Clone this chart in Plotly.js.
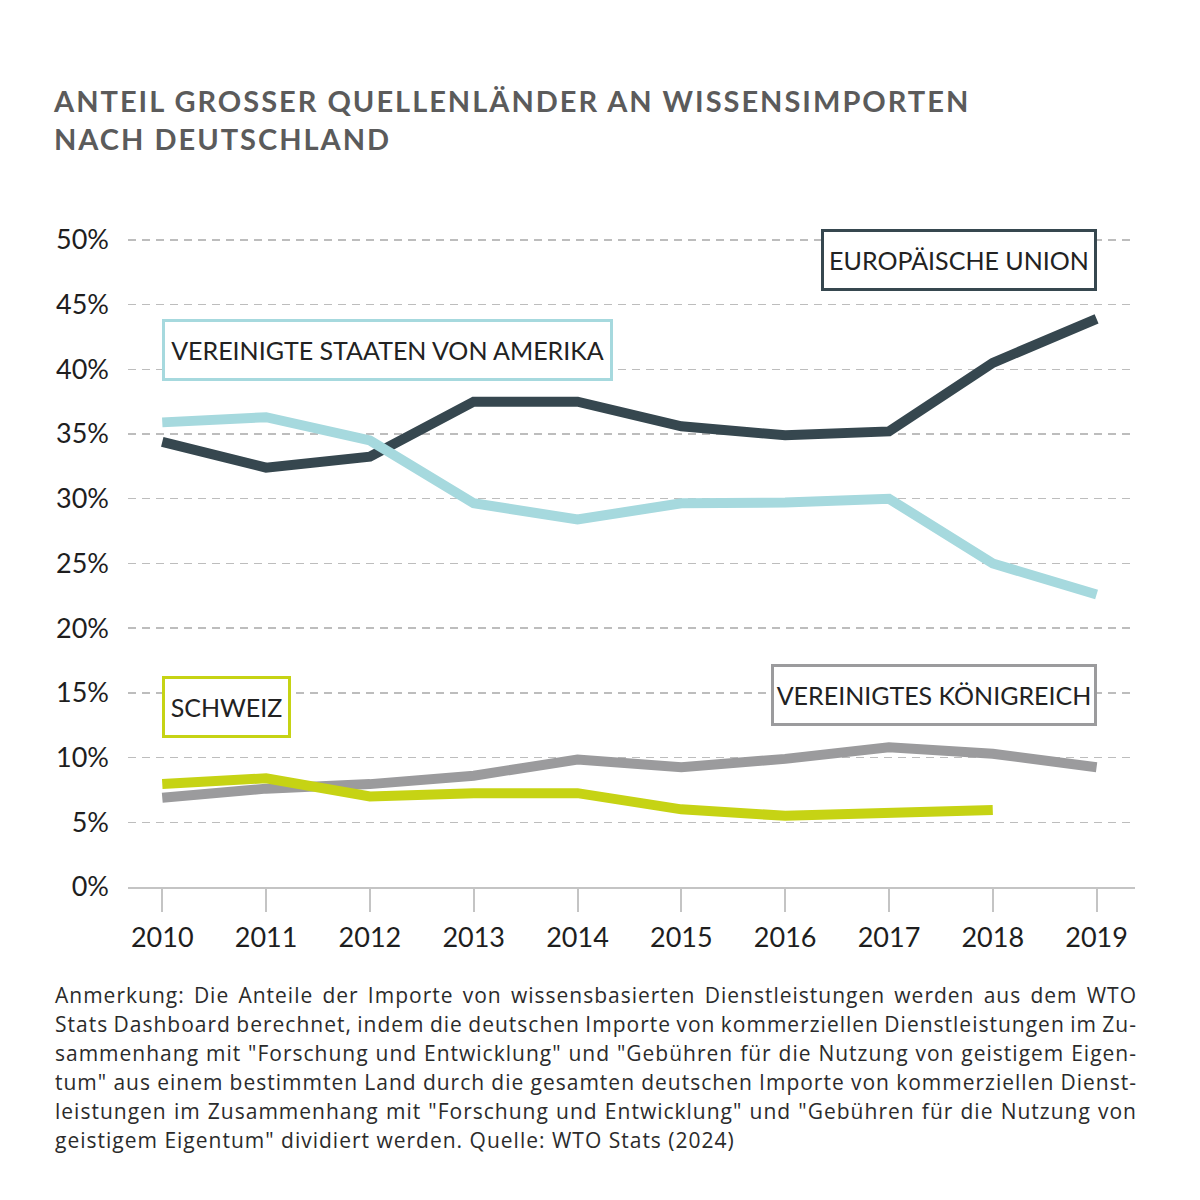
<!DOCTYPE html>
<html>
<head>
<meta charset="utf-8">
<script src="https://cdn.plot.ly/plotly-3.0.1.min.js"></script>
<style>
  html, body { margin: 0; padding: 0; background: #fff; }
  #chart { width: 1200px; height: 1200px; }
  .gtitle { letter-spacing: 2.0px; }
</style>
</head>
<body>
<div id="chart"></div>
<script>
const years = [2010, 2011, 2012, 2013, 2014, 2015, 2016, 2017, 2018, 2019];
const euValues  = [34.4, 32.4, 33.25, 37.5, 37.5, 35.6, 34.9, 35.2, 40.5, 43.9];
const usaValues = [35.9, 36.3, 34.5, 29.65, 28.4, 29.65, 29.7, 30.0, 25.0, 22.6];
const ukValues  = [6.9, 7.6, 7.95, 8.6, 9.85, 9.25, 9.9, 10.8, 10.3, 9.25];
const chValues  = [7.95, 8.4, 7.0, 7.25, 7.25, 6.0, 5.5, 5.7, 5.95, null];

const seriesNames = ['EUROPÄISCHE UNION', 'VEREINIGTE STAATEN VON AMERIKA', 'VEREINIGTES KÖNIGREICH', 'SCHWEIZ'];
const yTickValues = [0, 5, 10, 15, 20, 25, 30, 35, 40, 45, 50];

const titleText = 'ANTEIL GROSSER QUELLENLÄNDER AN WISSENSIMPORTEN<br>NACH DEUTSCHLAND';
const noteLines = [
  'Anmerkung: Die Anteile der Importe von wissensbasierten Dienstleistungen werden aus dem WTO',
  'Stats Dashboard berechnet, indem die deutschen Importe von kommerziellen Dienstleistungen im Zu-',
  'sammenhang mit "Forschung und Entwicklung" und "Gebühren für die Nutzung von geistigem Eigen-',
  'tum" aus einem bestimmten Land durch die gesamten deutschen Importe von kommerziellen Dienst-',
  'leistungen im Zusammenhang mit "Forschung und Entwicklung" und "Gebühren für die Nutzung von',
  'geistigem Eigentum" dividiert werden. Quelle: WTO Stats (2024)'
];

const colors = { eu: '#36474f', usa: '#a6d9de', uk: '#9b9b9d', ch: '#c6d314' };
const FONT = 'Lato, "Open Sans", sans-serif';
const NOTE_FONT = '"Open Sans", Lato, sans-serif';

const mk = (y, c) => ({
  x: years, y: y, type: 'scatter', mode: 'lines',
  line: { color: c, width: 10, shape: 'linear' },
  hoverinfo: 'skip', showlegend: false, connectgaps: false
});

const traces = [
  Object.assign(mk(euValues, colors.eu), { name: seriesNames[0] }),
  Object.assign(mk(usaValues, colors.usa), { name: seriesNames[1] }),
  Object.assign(mk(ukValues, colors.uk), { name: seriesNames[2] }),
  Object.assign(mk(chValues, colors.ch), { name: seriesNames[3] })
];

const boxFont = { family: FONT, size: 25, color: '#222' };
const box = (text, x, xanchor, y, w, c) => ({
  text: text, x: x, y: y, xref: 'x', yref: 'y', xanchor: xanchor, yanchor: 'middle',
  showarrow: false, font: boxFont, bgcolor: '#ffffff', bordercolor: c, borderwidth: 3,
  borderpad: 0, width: w, height: 56, align: 'center', valign: 'middle'
});

const annotations = [
  box(seriesNames[0], 2019, 'right', 48.45, 270, colors.eu),
  box(seriesNames[1], 2010, 'left', 41.5, 445, colors.usa),
  box(seriesNames[2], 2019, 'right', 14.8, 320, colors.uk),
  box(seriesNames[3], 2010, 'left', 13.9, 123, colors.ch)
];

const PX_PER_UNIT = 647 / 50;
noteLines.forEach((t, i) => {
  annotations.push({
    text: t, xref: 'paper', yref: 'paper', x: (53 - 128) / 1007, xanchor: 'left',
    y: -(995 + i * 29 - 887) / (PX_PER_UNIT * 50.3), yanchor: 'middle', showarrow: false, align: 'left',
    font: { family: NOTE_FONT, size: 21, color: '#2b2b2b' }
  });
});

const layout = {
  width: 1200, height: 1200,
  margin: { l: 128, r: 65, t: 236, b: 313 },
  paper_bgcolor: '#ffffff', plot_bgcolor: '#ffffff',
  title: {
    text: titleText, x: 54 / 1200, xanchor: 'left', xref: 'container',
    y: 1 - 112 / 1200, yanchor: 'top', yref: 'container',
    font: { family: FONT, size: 29, color: '#5b5b5b', weight: 700 }
  },
  xaxis: {
    range: [2009.67, 2019.37], tickvals: years, ticktext: years.map(String),
    showline: true, linecolor: '#c4c4c4', linewidth: 2,
    ticks: 'outside', ticklen: 23, tickcolor: '#c4c4c4', tickwidth: 2,
    showgrid: false, zeroline: false, ticklabelstandoff: 3,
    tickfont: { family: FONT, size: 27, color: '#1e1e1e' }
  },
  yaxis: {
    range: [0, 50.3], tickvals: yTickValues, ticktext: yTickValues.map(v => v + '%'),
    showgrid: true, gridcolor: '#bdbdbd', gridwidth: 1.5, griddash: '8px,6px',
    zeroline: false, showline: false, ticks: '', ticklabelstandoff: 18,
    tickfont: { family: FONT, size: 27, color: '#1e1e1e' }
  },
  annotations: annotations
};

Plotly.newPlot('chart', traces, layout, { displayModeBar: false, staticPlot: true }).then(gd => {
  // note text: slight tracking, and justify all lines but the last to the full width
  const target = 1135 - 53;
  const texts = gd.querySelectorAll('.annotation-text');
  texts.forEach(el => {
    const idx = noteLines.indexOf(el.textContent);
    if (idx < 0) return;
    el.style.letterSpacing = '1px';
    if (idx === noteLines.length - 1) return;
    const w = el.getComputedTextLength();
    const spaces = (noteLines[idx].match(/ /g) || []).length;
    if (spaces > 0) el.style.wordSpacing = ((target - w) / spaces) + 'px';
  });
});
</script>
</body>
</html>
